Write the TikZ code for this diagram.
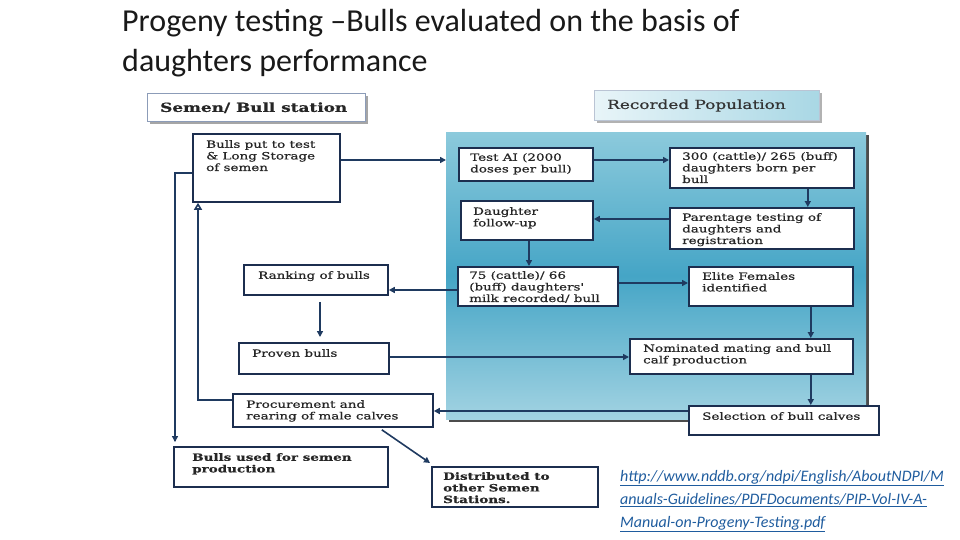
\documentclass[tikz,border=0pt]{standalone}
\usepackage{fontspec}
\setmainfont{Carlito}
\newfontfamily\boxfont[FakeStretch=1.35,FakeBold=0.7]{DejaVu Serif}
\usetikzlibrary{arrows.meta}
\definecolor{navy}{HTML}{1C2E4F}
\definecolor{conn}{HTML}{1F3A60}
\definecolor{paneltop}{HTML}{8CCADC}
\definecolor{panelmid}{HTML}{45A5C6}
\definecolor{panelbot}{HTML}{A2D3E2}
\definecolor{urlblue}{HTML}{1F5C9E}
\definecolor{hdrborder}{HTML}{8C9CB8}
\tikzset{
  bxs/.style={draw=navy, line width=1.8pt, fill=white, rectangle, inner sep=0pt, anchor=north west},
  txs/.style={font=\boxfont\fontsize{10}{11.6}\selectfont, align=left, inner sep=0pt, text=black!85, anchor=north west},
  arr/.style={draw=conn, line width=1.6pt, -{Triangle[length=6pt,width=6pt]}},
  ln/.style={draw=conn, line width=1.6pt},
  urls/.style={anchor=base west, inner sep=0pt, font=\itshape\fontsize{16}{20}\selectfont, text=urlblue},
  ttl/.style={anchor=base west, inner sep=0pt, font=\fontsize{32}{40}\selectfont, text=black!90},
}
\newcommand\bx[8]{%
  \node[bxs, minimum width=#4pt, minimum height=#5pt] (#1) at (#2,#3) {};
  \node[txs] (#1t) at ([xshift=#6pt, yshift=-#7pt]#1.north west) {#8};}
\begin{document}
\begin{tikzpicture}[x=1pt,y=-1pt]
\useasboundingbox (0,0) rectangle (960,540);
% title
\node[ttl] (title1) at (122,32) {Progeny testing \textendash Bulls evaluated on the basis of};
\node[ttl] (title2) at (122,72) {daughters performance};
% panel
\fill[black!70] (449,135) rectangle (869,422);
\node[rectangle, inner sep=0pt, anchor=north west, minimum width=420pt, minimum height=287pt,
  shading=axis, top color=paneltop, bottom color=panelbot, middle color=panelmid] (panel) at (446,132) {};
% headers
\fill[black!35] (150,96) rectangle (368,124);
\node[rectangle, draw=hdrborder, line width=1.4pt, fill=white, inner sep=0pt, anchor=north west,
  minimum width=218pt, minimum height=28pt] (station) at (147,93) {};
\node[anchor=west, inner sep=0pt, font=\boxfont\bfseries\fontsize{12.5}{14}\selectfont, text=black!85] (stationt) at ([xshift=13pt]station.west) {Semen/ Bull station};
\fill[black!30] (597,93) rectangle (822,123);
\node[rectangle, draw=hdrborder!60, line width=1pt, inner sep=0pt, anchor=north west,
  minimum width=225pt, minimum height=30pt, shading=axis, left color=white!80!paneltop, right color=paneltop!75] (recpop) at (594,90) {};
\node[anchor=west, inner sep=0pt, font=\boxfont\fontsize{12.5}{14}\selectfont, text=black!80] (recpopt) at ([xshift=13pt]recpop.west) {Recorded Population};
% boxes
\bx{bput}{192}{133}{147}{68}{14}{7}{Bulls put to test\\\& Long Storage\\of semen}
\bx{testai}{458}{147}{134}{33}{12}{6}{Test AI (2000\\doses per bull)}
\bx{dthree}{669}{147}{184}{40}{13}{5}{300 (cattle)/ 265 (buff)\\daughters born per\\bull}
\bx{parent}{669}{207}{184}{41}{13}{6}{Parentage testing of\\daughters and\\registration}
\bx{dfollow}{460}{200}{132}{39}{13}{7}{Daughter\\follow-up}
\bx{dsev}{457}{266}{160}{39}{12}{5}{75 (cattle)/ 66\\(buff) daughters'\\milk recorded/ bull}
\bx{elite}{688}{266}{164}{39}{14}{6}{Elite Females\\identified}
\bx{rank}{243}{264}{144}{30}{15}{7}{Ranking of bulls}
\bx{proven}{238}{342}{150}{31}{14}{7}{Proven bulls}
\bx{nomin}{629}{338}{223}{35}{14}{6}{Nominated mating and bull\\calf production}
\bx{select}{688}{405}{190}{29}{14}{7}{Selection of bull calves}
\bx{procure}{232}{393}{200}{33}{14}{7}{Procurement and\\rearing of male calves}
\bx{bused}{173}{446}{214}{40}{19}{7}{\bfseries Bulls used for semen\\\bfseries production}
\bx{distrib}{431}{466}{166}{40}{12}{6}{\bfseries Distributed to\\\bfseries other Semen\\\bfseries Stations.}
% connectors
\coordinate (c1) at ([yshift=-27pt]bput.north east);
\draw[arr] (c1) -- (c1 -| panel.west);
\coordinate (c2) at ([yshift=-13pt]testai.north east);
\draw[arr] (c2) -- (c2 -| dthree.west);
\coordinate (c3) at ([xshift=-47pt]dthree.south east);
\draw[arr] (c3) -- (c3 |- parent.north);
\coordinate (c4) at ([yshift=-12pt]parent.north west);
\draw[arr] (c4) -- (c4 -| dfollow.east);
\coordinate (c5) at ([xshift=69pt]dfollow.south west);
\draw[arr] (c5) -- (c5 |- dsev.north);
\coordinate (c6) at ([yshift=-24pt]dsev.north west);
\draw[arr] (c6) -- (c6 -| rank.east);
\coordinate (c7) at ([yshift=-17pt]dsev.north east);
\draw[arr] (c7) -- (c7 -| elite.west);
\coordinate (c8) at ([xshift=77pt, yshift=-6pt]rank.south west);
\draw[arr] (c8) -- ([yshift=5pt]c8 |- proven.north);
\coordinate (c9) at ([xshift=-43pt]elite.south east);
\draw[arr] (c9) -- (c9 |- nomin.north);
\coordinate (c9b) at ([yshift=-15pt]proven.north east);
\draw[arr] (c9b) -- (c9b -| nomin.west);
\coordinate (c10) at ([xshift=-43pt]nomin.south east);
\draw[arr] (c10) -- (c10 |- select.north);
\coordinate (c11) at ([yshift=-6pt]select.north west);
\draw[arr] (c11) -- (c11 -| procure.east);
\coordinate (c12) at ([xshift=-52pt, yshift=-2pt]procure.south east);
\draw[arr] (c12) -- ([xshift=-1pt, yshift=3pt]distrib.north west);
\coordinate (c13) at ([yshift=-40pt]bput.north west);
\coordinate (c14) at ([xshift=2pt]bused.north west);
\draw[arr, shorten >=4pt] (c13) -- ++(-17,0) |- ([yshift=5pt]c14) -- (c14);
\coordinate (c15) at ([yshift=-7pt]procure.north west);
\draw[ln, -{Triangle[open, length=7pt, width=8pt]}] (c15) -- ++(-34,0) -- ([xshift=6pt]bput.south west);
% url
\node[urls] (url1) at (620,481) {\underline{http://www.nddb.org/ndpi/English/AboutNDPI/M}};
\node[urls] (url2) at (620,504) {\underline{anuals-Guidelines/PDFDocuments/PIP-Vol-IV-A-}};
\node[urls] (url3) at (620,527) {\underline{Manual-on-Progeny-Testing.pdf}};
\end{tikzpicture}
\end{document}
